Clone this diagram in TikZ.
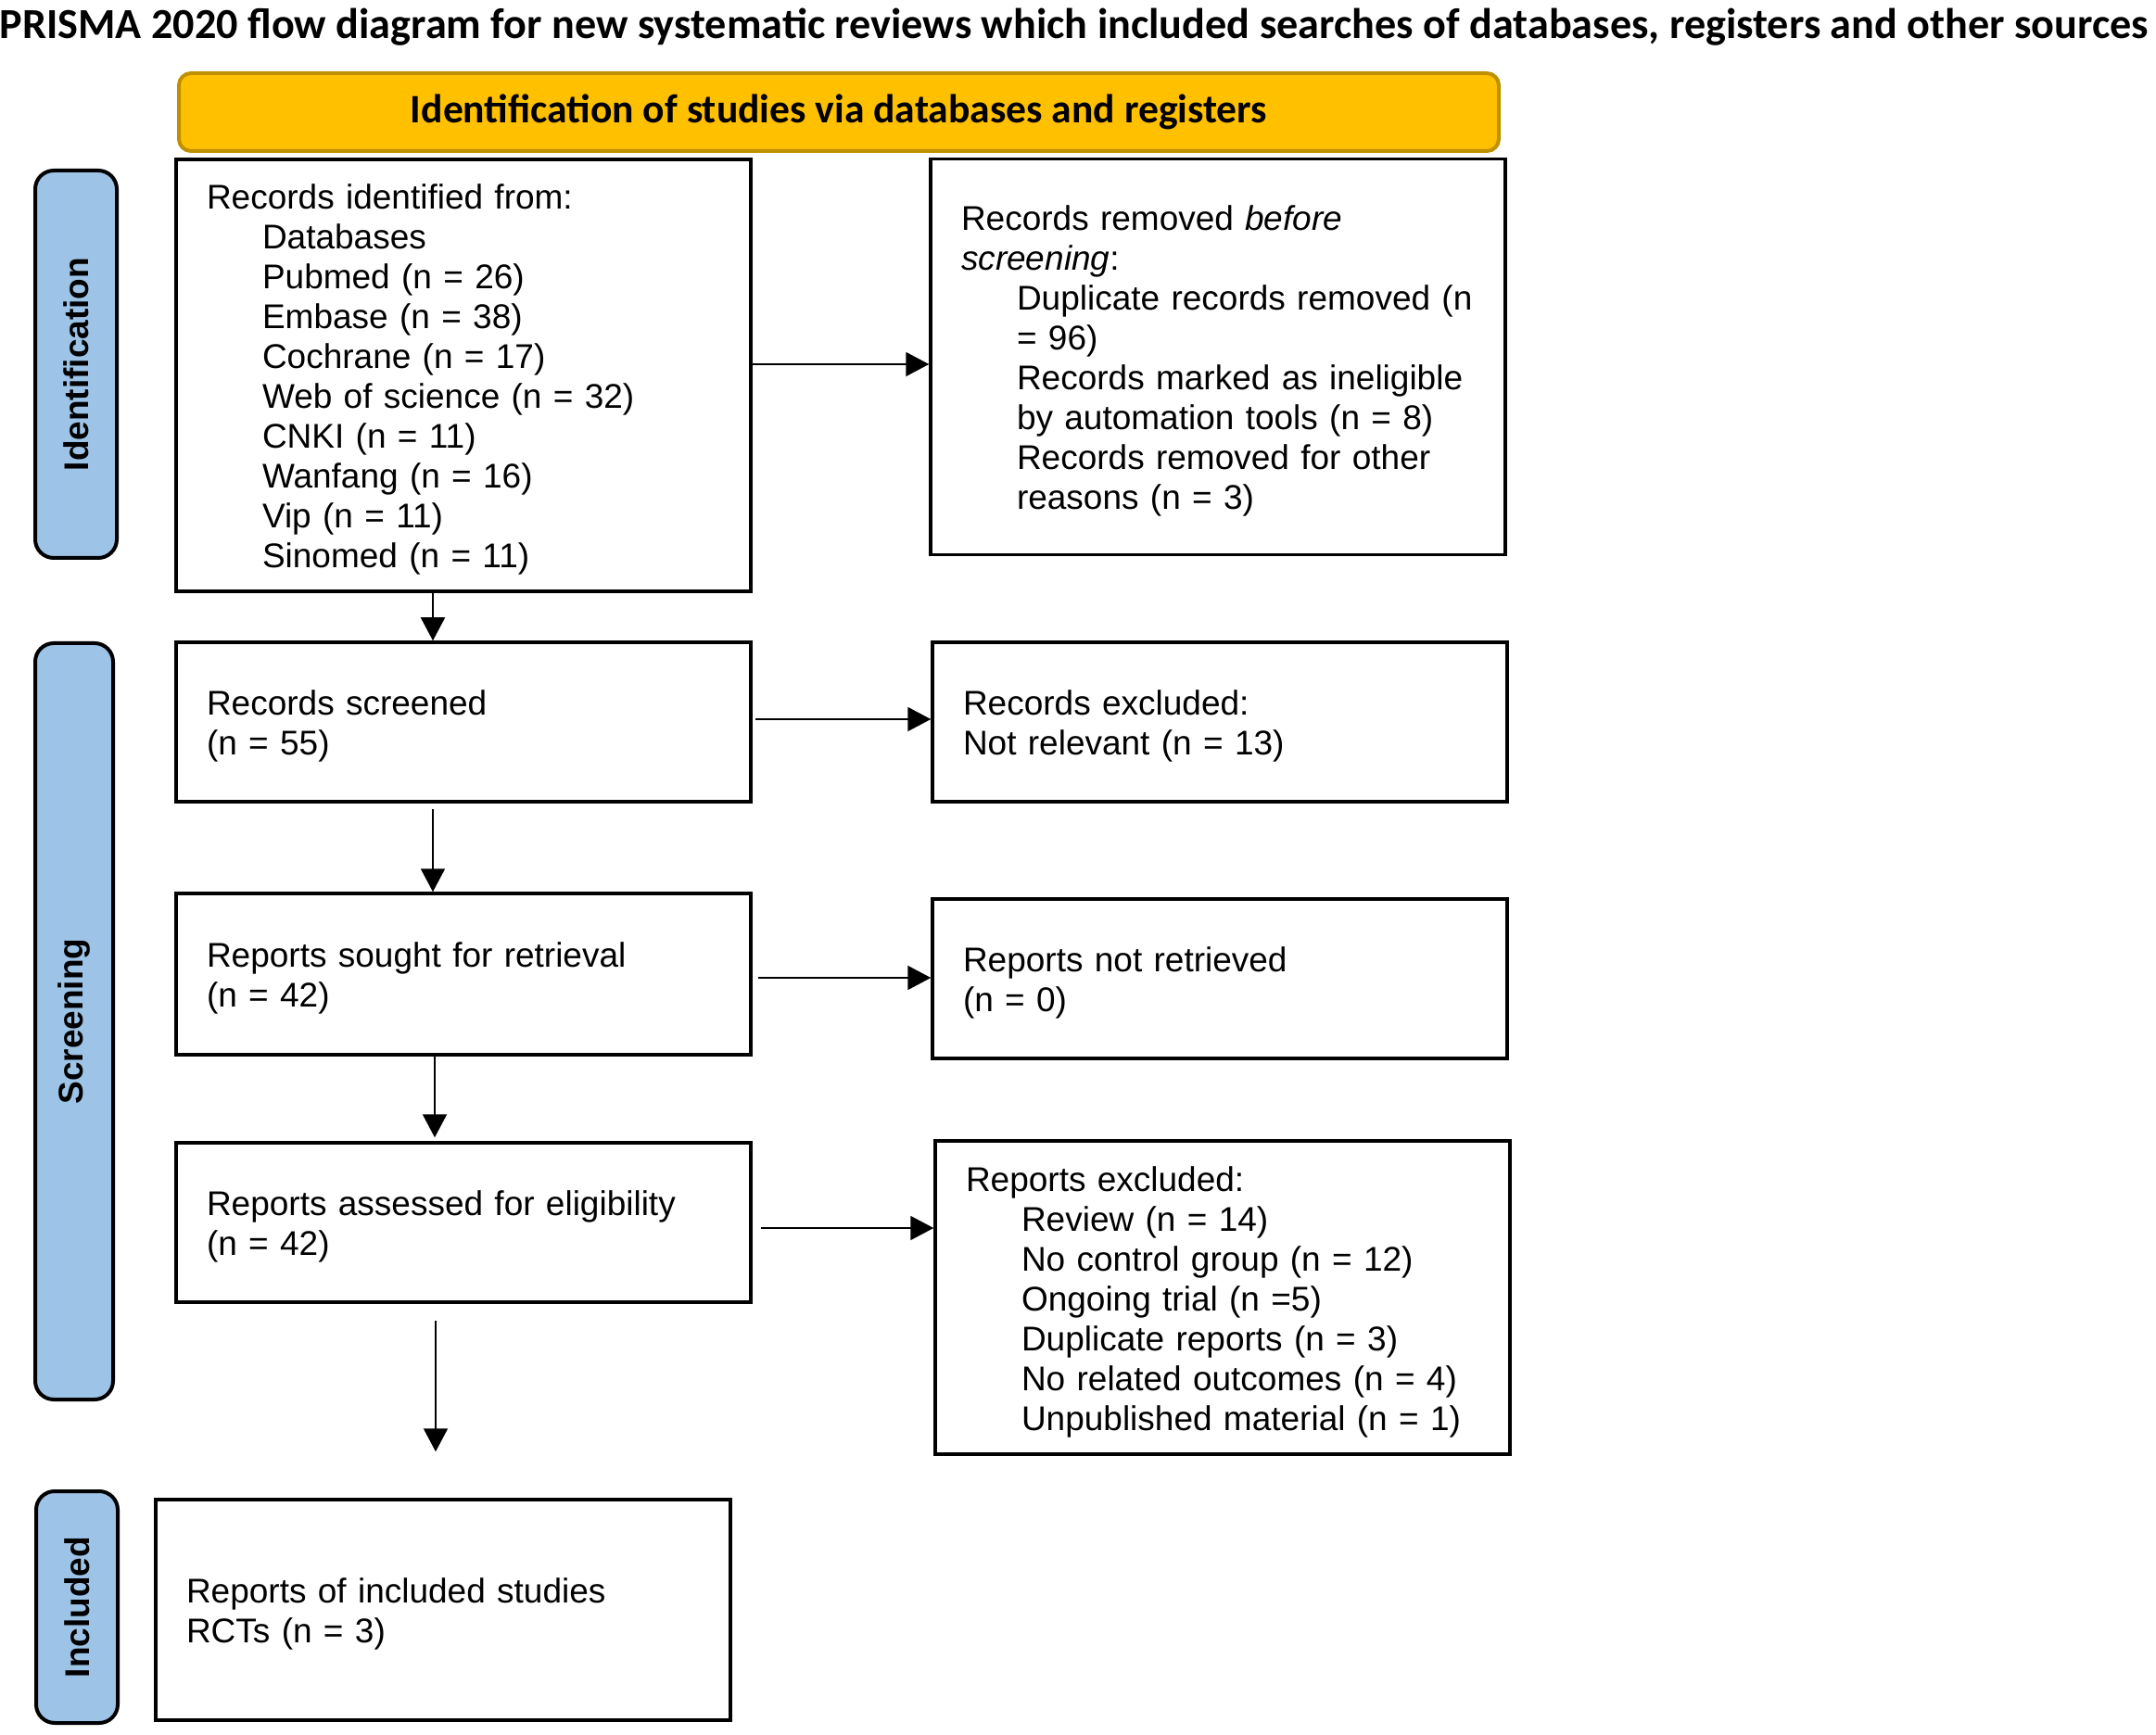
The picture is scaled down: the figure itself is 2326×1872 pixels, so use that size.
\documentclass[tikz,border=0pt]{standalone}
\usepackage{fontspec}
\setmainfont{Liberation Sans}
\newfontfamily\titlefont{Carlito}
\usetikzlibrary{arrows.meta}

\definecolor{bannerfill}{HTML}{FFC000}
\definecolor{bannerdraw}{HTML}{BF9000}
\definecolor{phasefill}{HTML}{9DC3E6}

\tikzset{
    box/.style={draw, line width=1.75pt, inner xsep=16.5pt, text width=277pt,
        align=left, font=\fontsize{18.5}{21.5}\selectfont,
        execute at begin node={\rule{0pt}{18pt}}},
    phase/.style={draw, fill=phasefill, line width=2pt, rounded corners=10pt,
        font=\fontsize{18.5}{21}\selectfont\bfseries},
    arr/.style={-{Triangle[length=12.5pt, width=13pt]}, line width=1pt}
}

\newcommand{\ind}{\hspace*{30pt}}

\begin{document}
\begin{tikzpicture}[x=0.5pt, y=-0.5pt]

    \useasboundingbox (0, 0) rectangle (2326, 1872);

    % Title
    \node (title) at (1159, 29) {\titlefont\bfseries\fontsize{23.1}{27}\selectfont PRISMA 2020 flow diagram for new systematic reviews which included searches of databases, registers and other sources};

    % Banner
    \node [draw=bannerdraw, fill=bannerfill, line width=2pt, rounded corners=6.5pt,
        minimum width=712pt, minimum height=42pt] (banner) at (905, 121)
        {\titlefont\bfseries\fontsize{21.8}{26}\selectfont Identification of studies via databases and registers};

    % Phases
    \node [phase, minimum width=209pt, minimum height=44pt, rotate=90] (phaseid) at (82, 393) {Identification};
    \node [phase, minimum width=408pt, minimum height=42pt, rotate=90] (phasescr) at (80, 1102) {Screening};
    \node [phase, minimum width=125pt, minimum height=44pt, rotate=90] (phaseinc) at (83, 1734) {Included};

    % Left column
    \node [box, minimum height=233pt] (ident) at (500, 405) {Records identified from:\\
        \ind Databases\\
        \ind Pubmed (n = 26)\\
        \ind Embase (n = 38)\\
        \ind Cochrane (n = 17)\\
        \ind Web of science (n = 32)\\
        \ind CNKI (n = 11)\\
        \ind Wanfang (n = 16)\\
        \ind Vip (n = 11)\\
        \ind Sinomed (n = 11)};
    \node [box, minimum height=86pt] (screened) at (500, 779) {Records screened\\(n = 55)};
    \node [box, minimum height=87pt] (sought) at (500, 1051) {Reports sought for retrieval\\(n = 42)};
    \node [box, minimum height=86pt] (assessed) at (500, 1319) {Reports assessed for eligibility\\(n = 42)};
    \node [box, minimum height=119pt] (included) at (478, 1737) {Reports of included studies\\RCTs (n = 3)};

    % Right column
    \node [box, minimum height=213.5pt] (removed) at (1314, 385) {Records removed \textit{before}\\
        \textit{screening}:\\
        \ind \mbox{Duplicate records removed (n}\\
        \ind = 96)\\
        \ind Records marked as ineligible\\
        \ind by automation tools (n = 8)\\
        \ind Records removed for other\\
        \ind reasons (n = 3)};
    \node [box, minimum height=86pt] (excluded) at (1316, 779) {Records excluded:\\Not relevant (n = 13)};
    \node [box, minimum height=86pt] (notretr) at (1316, 1056) {Reports not retrieved\\(n = 0)};
    \node [box, minimum height=169pt] (repexcl) at (1319, 1400) {Reports excluded:\\
        \ind Review (n = 14)\\
        \ind No control group (n = 12)\\
        \ind Ongoing trial (n =5)\\
        \ind Duplicate reports (n = 3)\\
        \ind No related outcomes (n = 4)\\
        \ind Unpublished material (n = 1)};

    % Down arrows
    \draw [arr] ([xshift=-16.5pt]ident.south) -- ([xshift=-16.5pt]ident.south |- screened.north);
    \draw [arr, shorten <=3pt] ([xshift=-16.5pt]screened.south) -- ([xshift=-16.5pt]screened.south |- sought.north);
    \draw [arr, shorten >=2pt] ([xshift=-15.5pt]sought.south) -- ([xshift=-15.5pt]sought.south |- assessed.north);
    \draw [arr, shorten <=9pt, shorten >=25pt] ([xshift=-15pt]assessed.south) -- ([xshift=-15pt]assessed.south |- included.north);

    % Side arrows
    \draw [arr] ([yshift=6pt]ident.east) -- ([yshift=6pt]ident.east -| removed.west);
    \draw [arr, shorten <=1.5pt] ([yshift=1.5pt]screened.east) -- ([yshift=1.5pt]screened.east -| excluded.west);
    \draw [arr, shorten <=3pt] ([yshift=-2pt]sought.east) -- ([yshift=-2pt]sought.east -| notretr.west);
    \draw [arr, shorten <=4.5pt] ([yshift=-3pt]assessed.east) -- ([yshift=-3pt]assessed.east -| repexcl.west);

\end{tikzpicture}
\end{document}
